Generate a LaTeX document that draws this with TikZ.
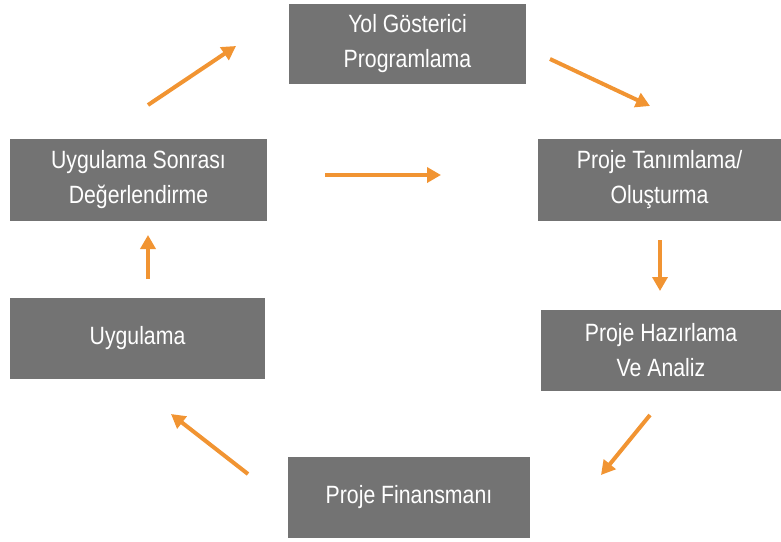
\documentclass[tikz,border=0pt]{standalone}
\usepackage{fontspec}
\setmainfont[FakeStretch=0.85]{Liberation Sans}
\usetikzlibrary{arrows.meta}
\definecolor{stagegray}{RGB}{115,115,115}
\definecolor{floworange}{RGB}{241,148,50}

\begin{document}
\begin{tikzpicture}[x=1pt, y=-1pt,
    stage/.style={fill=stagegray, text=white, align=center, inner sep=0pt,
                  minimum height=81pt, font=\fontsize{25}{35}\selectfont},
    flow/.style={-{Triangle[length=14pt,width=15pt]}, line width=4pt, floworange}]
    \useasboundingbox (0,0) rectangle (781,541);
    % stages of the cycle
    \node[stage, minimum width=237pt, minimum height=80pt] (yol)    at (407.5,44)  {Yol Gösterici\\Programlama};
    \node[stage, minimum width=243pt, minimum height=82pt] (tanim)  at (659.5,180)  {Proje Tanımlama/\\Oluşturma};
    \node[stage, minimum width=240pt] (hazir)  at (661,350.5) {Proje Hazırlama\\Ve Analiz};
    \node[stage, minimum width=242pt] (finans) at (409,497.5) {Proje Finansmanı};
    \node[stage, minimum width=255pt] (uyg)    at (137.5,338.5) {Uygulama};
    \node[stage, minimum width=257pt, minimum height=82pt] (sonra)  at (138.5,180) {Uygulama Sonrası\\Değerlendirme};
    % arrow ends
    \coordinate (a1) at (148,105); \coordinate (b1) at (236,46);
    \coordinate (a2) at (550,59);  \coordinate (b2) at (650,106);
    \coordinate (a3) at (660,240); \coordinate (b3) at (660,291);
    \coordinate (a4) at (650,415); \coordinate (b4) at (601,475);
    \coordinate (a5) at (248,474); \coordinate (b5) at (171,414);
    \coordinate (a6) at (148,279); \coordinate (b6) at (148,235);
    \coordinate (a7) at (325,175); \coordinate (b7) at (441,175);
    \foreach \i in {1,...,7}
        \draw[flow] (a\i) -- (b\i);
\end{tikzpicture}
\end{document}
